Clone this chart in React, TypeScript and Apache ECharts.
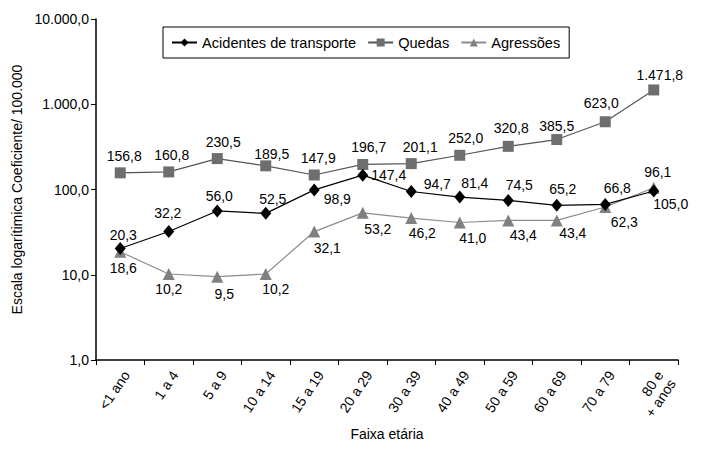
import React, { useEffect, useRef } from "react";
import * as echarts from "echarts";

const categories = ["<1 ano", "1 a 4", "5 a 9", "10 a 14", "15 a 19", "20 a 29", "30 a 39", "40 a 49", "50 a 59", "60 a 69", "70 a 79", "80 e\n+ anos"];
const acidentes = [20.3, 32.2, 56.0, 52.5, 98.9, 147.4, 94.7, 81.4, 74.5, 65.2, 66.8, 96.1];
const quedas = [156.8, 160.8, 230.5, 189.5, 147.9, 196.7, 201.1, 252.0, 320.8, 385.5, 623.0, 1471.8];
const agressoes = [18.6, 10.2, 9.5, 10.2, 32.1, 53.2, 46.2, 41.0, 43.4, 43.4, 62.3, 105.0];

// label placement offsets (style only)
const offAcid = [[3, -14], [-1, -18], [2, -15], [7, -14], [23, 9], [26, 0], [26, -8], [15, -14], [11, -15], [6, -16], [12, -16], [4, -19]];
const offQued = [[4, -17], [3, -17], [6, -17], [6, -12], [4, -17], [6, -17], [9, -17], [6, -17], [3, -18], [0, -14], [-4, -19], [6, -15]];
const offAgr = [[3, 16], [0, 15], [7, 17], [10, 15], [13, 16], [15, 16], [11, 15], [13, 15], [15, 15], [16, 13], [19, 15], [17, 16]];

const FONT = "'Liberation Sans', Arial, sans-serif";

function fmt(v: number): string {
  const s = v.toFixed(1);
  const [i, d] = s.split(".");
  const withDots = i.replace(/\B(?=(\d{3})+(?!\d))/g, ".");
  return withDots + "," + d;
}

function mk(values: number[], offs: number[][]) {
  return values.map((v, i) => ({
    value: v,
    label: { offset: offs[i] },
  }));
}

export default function App() {
  const ref = useRef<HTMLDivElement>(null);
  useEffect(() => {
    document.body.style.margin = "0";
    const chart = echarts.init(ref.current!, null, { renderer: "svg" });
    const labelBase = {
      show: true,
      position: "inside" as const,
      color: "#000",
      fontFamily: FONT,
      fontSize: 14,
      formatter: (p: any) => fmt(p.value),
    };
    chart.setOption({
      animation: false,
      backgroundColor: "#fff",
      textStyle: { fontFamily: FONT },
      grid: { left: 96, right: 24, top: 19, bottom: 97, containLabel: false },
      legend: {
        left: 163,
        top: 27,
        padding: [8, 9, 8, 8],
        itemGap: 11,
        itemWidth: 25,
        itemHeight: 10,
        borderColor: "#000",
        borderWidth: 1,
        borderRadius: 0,
        backgroundColor: "#fff",
        textStyle: { color: "#000", fontSize: 14.6, fontFamily: FONT },
        data: ["Acidentes de transporte", "Quedas", "Agressões"],
      },
      xAxis: {
        type: "category",
        data: categories,
        boundaryGap: true,
        name: "Faixa etária",
        nameLocation: "middle",
        nameGap: 67,
        nameTextStyle: { color: "#000", fontSize: 14, fontFamily: FONT },
        axisLine: { lineStyle: { color: "#000", width: 1.5 } },
        axisTick: { show: true, length: 5, lineStyle: { color: "#000" }, alignWithLabel: false },
        axisLabel: {
          interval: 0,
          rotate: 56,
          margin: 8,
          color: "#000",
          fontSize: 14,
          fontFamily: FONT,
          lineHeight: 15,
          align: "right",
          verticalAlign: "top",
        },
        splitLine: { show: false },
      },
      yAxis: {
        type: "log",
        logBase: 10,
        min: 1,
        max: 10000,
        name: "Escala logarítimica Coeficiente/ 100.000",
        nameLocation: "middle",
        nameGap: 70,
        nameRotate: 90,
        nameTextStyle: { color: "#000", fontSize: 14, fontFamily: FONT },
        axisLine: { show: true, lineStyle: { color: "#000", width: 1.5 } },
        axisTick: { show: true, length: 5, lineStyle: { color: "#000" } },
        minorTick: { show: false },
        splitLine: { show: false },
        axisLabel: {
          color: "#000",
          fontSize: 14,
          fontFamily: FONT,
          margin: 7,
          formatter: (v: number) => fmt(v),
        },
      },
      series: [
        {
          name: "Quedas",
          type: "line",
          data: mk(quedas, offQued),
          symbol: "rect",
          symbolSize: 11,
          itemStyle: { color: "#6e6e6e" },
          lineStyle: { color: "#555", width: 1.2 },
          label: labelBase,
          z: 2,
        },
        {
          name: "Agressões",
          type: "line",
          data: mk(agressoes, offAgr),
          symbol: "triangle",
          symbolSize: 12,
          itemStyle: { color: "#808080" },
          lineStyle: { color: "#8c8c8c", width: 1.2 },
          label: labelBase,
          z: 3,
        },
        {
          name: "Acidentes de transporte",
          type: "line",
          data: mk(acidentes, offAcid),
          symbol: "diamond",
          symbolSize: [11, 13],
          itemStyle: { color: "#000" },
          lineStyle: { color: "#000", width: 1.2 },
          label: labelBase,
          z: 4,
        },
      ],
    });
    return () => chart.dispose();
  }, []);
  return <div ref={ref} style={{ width: 702, height: 457 }} />;
}
